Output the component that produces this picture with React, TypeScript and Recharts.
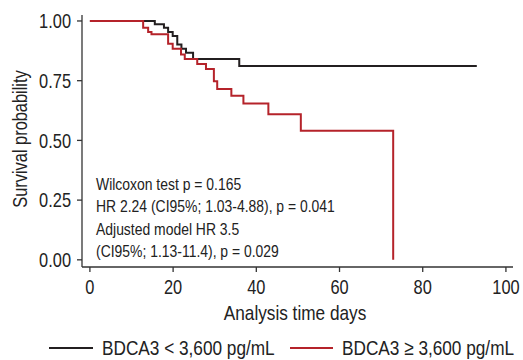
import { LineChart, Line, XAxis, YAxis, Legend, Label } from "recharts";

// no narrow font installed, so Liberation Sans is squeezed to Arial Narrow width
const FONT = "'Liberation Sans', Arial, sans-serif";
const SQUEEZE = 0.82;
const TEXT = "#222";

const xTicks = [0, 20, 40, 60, 80, 100];
const yTicks = [0, 0.25, 0.5, 0.75, 1];

const blackName = "BDCA3 < 3,600 pg/mL";
const blackTimes = [0, 15.6, 17.8, 18.8, 19.9, 21.0, 22.0, 23.1, 24.8, 35.9, 93];
const blackSurv = [1, 0.986, 0.972, 0.954, 0.937, 0.902, 0.884, 0.867, 0.841, 0.811, 0.811];

const redName = "BDCA3 \u2265 3,600 pg/mL";
const redTimes = [0, 12.8, 14.0, 14.8, 18.8, 19.9, 21.9, 22.8, 25.8, 27.9, 29.8, 30.6, 34.0, 36.9, 42.9, 50.7, 72.9];
const redSurv = [1, 0.972, 0.954, 0.944, 0.905, 0.884, 0.86, 0.841, 0.82, 0.799, 0.748, 0.715, 0.687, 0.655, 0.609, 0.54, 0];

const notes = [
  "Wilcoxon test p = 0.165",
  "HR 2.24 (CI95%; 1.03-4.88), p = 0.041",
  "Adjusted model HR 3.5",
  "(CI95%; 1.13-11.4), p = 0.029",
];

const BLACK = "#231f20";
const RED = "#b5232a";

const blackData = blackTimes.map((t, i) => ({ t, s: blackSurv[i] }));
const redData = redTimes.map((t, i) => ({ t, s: redSurv[i] }));

type NTProps = {
  x: number;
  y: number;
  size: number;
  anchor?: "start" | "middle" | "end";
  dy?: string;
  rotate?: number;
  children: React.ReactNode;
};

function NarrowText({ x, y, size, anchor = "start", dy = "0", rotate = 0, children }: NTProps) {
  return (
    <text
      transform={`translate(${x} ${y}) rotate(${rotate}) scale(${SQUEEZE} 1)`}
      textAnchor={anchor}
      dy={dy}
      fill={TEXT}
      fontSize={size}
      fontFamily={FONT}
    >
      {children}
    </text>
  );
}

function XTick(props: any) {
  const { x, y, payload } = props;
  return (
    <NarrowText x={x} y={y} size={20} anchor="middle" dy="0.71em">
      {payload.value}
    </NarrowText>
  );
}

function YTick(props: any) {
  const { x, y, payload } = props;
  return (
    <NarrowText x={x} y={y} size={20} anchor="end" dy="0.355em">
      {Number(payload.value).toFixed(2)}
    </NarrowText>
  );
}

function renderLegend() {
  const items = [
    { name: blackName, color: BLACK, x: 49, w: 44 },
    { name: redName, color: RED, x: 290, w: 43 },
  ];
  return (
    <svg width={523} height={24} style={{ display: "block" }}>
      {items.map((it) => (
        <g key={it.name}>
          <line x1={it.x} y1={12} x2={it.x + it.w} y2={12} stroke={it.color} strokeWidth={2} />
          <NarrowText x={it.x + it.w + 9} y={12} size={21} dy="0.355em">
            {it.name}
          </NarrowText>
        </g>
      ))}
    </svg>
  );
}

export default function App() {
  return (
    <div style={{ position: "absolute", left: 0, top: 0, width: 523, height: 360, background: "#fff" }}>
      <LineChart width={523} height={360} margin={{ top: 15, right: 10, bottom: 0, left: 0 }}>
        <XAxis
          type="number"
          dataKey="t"
          domain={[-1.9, 101.7]}
          ticks={xTicks}
          allowDataOverflow
          height={69}
          tickSize={5}
          tickMargin={8}
          stroke="#333"
          strokeWidth={1.3}
          tick={XTick}
        >
          <Label
            content={() => (
              <NarrowText x={295} y={313} size={21} anchor="middle" dy="0.355em">
                Analysis time days
              </NarrowText>
            )}
          />
        </XAxis>
        <YAxis
          type="number"
          domain={[-0.03, 1.025]}
          ticks={yTicks}
          allowDataOverflow
          width={82}
          tickSize={5}
          tickMargin={6}
          stroke="#333"
          strokeWidth={1.3}
          tick={YTick}
        >
          <Label
            content={() => (
              <NarrowText x={20} y={139} size={20} anchor="middle" dy="0.355em" rotate={-90}>
                Survival probability
              </NarrowText>
            )}
          />
        </YAxis>
        <Legend verticalAlign="bottom" height={24} content={renderLegend} />
        <Line data={blackData} dataKey="s" name={blackName} type="stepAfter" stroke={BLACK} strokeWidth={2} dot={false} activeDot={false} isAnimationActive={false} />
        <Line data={redData} dataKey="s" name={redName} type="stepAfter" stroke={RED} strokeWidth={2} dot={false} activeDot={false} isAnimationActive={false} />
        {notes.map((n, i) => (
          <NarrowText key={n} x={96} y={190 + i * 22.3} size={17}>
            {n}
          </NarrowText>
        ))}
      </LineChart>
    </div>
  );
}
